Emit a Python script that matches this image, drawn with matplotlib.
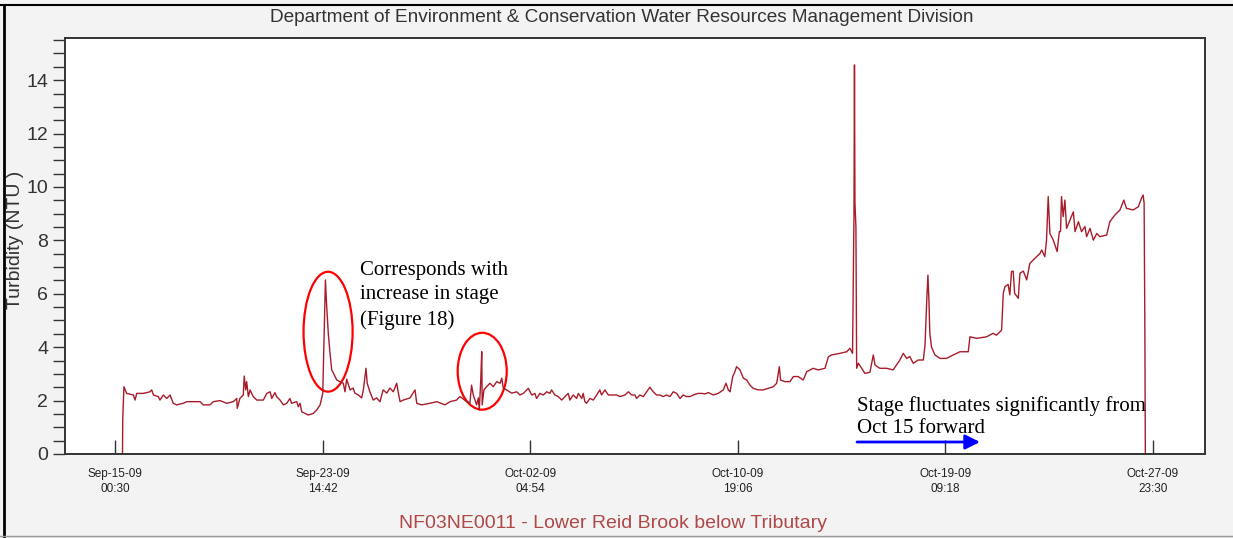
import matplotlib
matplotlib.use("Agg")
import matplotlib.pyplot as plt
import matplotlib.dates as mdates
from matplotlib.patches import Ellipse
from matplotlib.lines import Line2D
import pandas as pd

# ---------------- data ----------------
start_time = "2009-09-15 00:30"
# days elapsed since start_time in three stretches
days_a = [0.31, 0.32, 0.37, 0.48, 0.76, 0.83, 0.90, 1.17, 1.45, 1.52, 1.59, 1.79, 1.86, 2.00,
          2.14, 2.28, 2.41, 2.55, 2.69, 2.83, 2.97, 3.24, 3.52, 3.65, 3.93, 4.07, 4.35, 4.62,
          4.90, 5.04, 5.06, 5.17, 5.31, 5.35, 5.41, 5.45, 5.52, 5.59, 5.72, 5.87, 6.00, 6.14,
          6.28, 6.42, 6.49, 6.62, 6.69, 6.83, 6.97, 7.11, 7.24, 7.31, 7.52, 7.59, 7.66, 7.73,
          7.86, 8.00, 8.21, 8.35, 8.49, 8.60, 8.63, 8.71, 8.76, 8.83, 8.90, 8.97, 9.04, 9.18,
          9.31, 9.45, 9.52, 9.59, 9.73, 9.86, 9.93, 10.07, 10.21, 10.28, 10.39, 10.44, 10.55,
          10.69, 10.83, 10.97, 11.10, 11.25, 11.38, 11.52, 11.66, 11.73, 11.80, 11.93, 12.21,
          12.42, 12.49, 12.69, 13.04, 13.32, 13.66, 13.87, 14.14, 14.28, 14.56, 14.69, 14.76,
          14.83, 14.97, 15.04, 15.08, 15.14, 15.18, 15.20, 15.27, 15.38, 15.52, 15.66, 15.80,
          15.94, 16.01, 16.07, 16.21, 16.42, 16.63]
turb_a = [0.0, 1.30, 2.52, 2.27, 2.21, 2.02, 2.27, 2.27, 2.33, 2.40, 2.21, 2.15, 2.02, 2.21,
          2.08, 2.21, 1.90, 1.84, 1.87, 1.90, 1.96, 1.96, 1.96, 1.84, 1.84, 1.96, 2.00, 1.90,
          1.96, 2.08, 1.71, 2.08, 2.21, 2.92, 2.40, 2.71, 2.15, 2.40, 2.15, 2.02, 2.02, 2.02,
          2.27, 2.33, 2.08, 2.30, 2.15, 2.02, 1.84, 1.90, 2.08, 1.90, 1.96, 1.77, 1.90, 1.58,
          1.52, 1.46, 1.52, 1.65, 1.84, 2.27, 3.40, 6.52, 5.58, 4.50, 3.78, 3.15, 3.03, 2.77,
          2.71, 2.65, 2.33, 2.80, 2.40, 2.47, 2.28, 2.21, 2.10, 2.40, 3.21, 2.65, 2.33,
          2.02, 2.10, 1.96, 2.40, 2.28, 2.47, 2.33, 2.65, 2.28, 1.96, 2.02, 2.10,
          2.40, 1.90, 1.84, 1.90, 1.96, 1.84, 1.96, 2.02, 2.15, 1.96, 1.90, 2.58,
          2.21, 1.84, 2.10, 1.65, 2.77, 3.83, 1.84, 2.40, 2.52, 2.65, 2.52, 2.71,
          2.65, 2.84, 2.47, 2.40, 2.28, 2.33]

days_b = [16.76, 16.90, 17.11, 17.25, 17.38, 17.45, 17.59, 17.73, 17.87, 18.00,
          18.07, 18.21, 18.35, 18.49, 18.63, 18.76, 18.83, 18.97, 19.11, 19.18,
          19.32, 19.38, 19.45, 19.52, 19.66, 19.80, 19.94, 20.07, 20.14, 20.28,
          20.42, 20.56, 20.77, 20.90, 21.11, 21.25, 21.39, 21.52, 21.59, 21.73,
          21.87, 22.01, 22.14, 22.28, 22.42, 22.56, 22.69, 22.83, 22.97, 23.11,
          23.25, 23.39, 23.52, 23.66, 23.80, 23.94, 24.14, 24.28, 24.42, 24.56,
          24.77, 24.97, 25.18, 25.29, 25.39, 25.46, 25.57, 25.66]
turb_b = [2.21, 2.27, 2.46, 2.21, 2.27, 2.08, 2.27, 2.21, 2.33, 2.27,
          2.40, 2.21, 2.15, 2.02, 2.15, 2.27, 2.02, 2.21, 2.08, 2.27,
          2.08, 2.27, 1.96, 1.90, 2.08, 2.02, 2.21, 2.40, 2.21, 2.40,
          2.21, 2.21, 2.21, 2.15, 2.21, 2.33, 2.21, 2.21, 2.08, 2.21,
          2.15, 2.33, 2.50, 2.33, 2.21, 2.21, 2.15, 2.21, 2.15, 2.33,
          2.27, 2.08, 2.21, 2.15, 2.15, 2.21, 2.27, 2.27, 2.25, 2.30,
          2.21, 2.27, 2.40, 2.65, 2.40, 2.33, 2.90, 3.08]

days_c = [25.73, 25.87,
          26.01, 26.15, 26.28, 26.42, 26.63, 26.83, 27.04, 27.25, 27.39, 27.50, 27.55, 27.73,
          27.94, 28.08, 28.28, 28.49, 28.63, 28.90, 29.11, 29.39, 29.53, 29.66, 30.01, 30.29,
          30.42, 30.53, 30.59, 30.61, 30.63, 30.67, 30.70, 30.77, 30.91, 31.04, 31.25, 31.39,
          31.46, 31.66, 31.94, 32.21, 32.49, 32.63, 32.77, 32.90, 33.04, 33.25, 33.46, 33.53,
          33.60, 33.65, 33.69, 33.73, 33.80, 33.94, 34.15, 34.42, 34.70, 34.98, 35.32, 35.39,
          35.67, 36.08, 36.35, 36.49, 36.70, 36.77, 36.84, 36.97, 37.04, 37.11, 37.18, 37.24,
          37.39, 37.46, 37.60, 37.74, 37.87, 38.08, 38.29, 38.36, 38.49, 38.56, 38.63, 38.70,
          38.84, 39.00, 39.09, 39.14, 39.18, 39.25, 39.32, 39.39, 39.53, 39.67, 39.74, 39.88,
          40.01, 40.15, 40.22, 40.36, 40.50, 40.64, 40.77, 41.05, 41.18, 41.39, 41.60, 41.76,
          41.87, 42.15, 42.36, 42.49, 42.56, 42.60, 42.63, 42.65]
turb_c = [3.27, 3.15,
          2.84, 2.77, 2.58, 2.46, 2.40, 2.40, 2.46, 2.52, 2.65, 3.27, 2.77, 2.71,
          2.71, 2.90, 2.90, 2.77, 3.08, 3.21, 3.15, 3.21, 3.64, 3.71, 3.77, 3.83,
          3.96, 3.77, 9.00, 14.57, 9.39, 8.51, 3.21, 3.40, 3.21, 3.02, 3.06, 3.71,
          3.33, 3.21, 3.21, 3.15, 3.52, 3.77, 3.58, 3.65, 3.40, 3.52, 3.52, 4.08,
          5.70, 6.70, 5.80, 4.52, 4.00, 3.71, 3.58, 3.58, 3.71, 3.83, 3.83, 4.39,
          4.33, 4.39, 4.52, 4.45, 4.64, 6.02, 6.27, 6.35, 5.96, 6.83, 6.85, 6.02,
          5.83, 6.77, 6.85, 6.52, 7.14, 7.33, 7.51, 7.64, 7.39, 8.01, 9.64, 8.26,
          8.01, 7.58, 8.33, 8.33, 9.64, 8.89, 9.51, 8.45, 8.76, 9.07, 8.33, 8.70,
          8.33, 8.52, 8.14, 8.45, 8.01, 8.26, 8.14, 8.20, 8.70, 8.95, 9.14, 9.51,
          9.20, 9.14, 9.26, 9.58, 9.70, 9.39, 4.77, 0.0]

tick_times = ["2009-09-15 00:30", "2009-09-23 14:42", "2009-10-02 04:54",
              "2009-10-10 19:06", "2009-10-19 09:18", "2009-10-27 23:30"]
y_major = [0, 2, 4, 6, 8, 10, 12, 14]

title_text = "Department of Environment & Conservation Water Resources Management Division"
station_text = "NF03NE0011 - Lower Reid Brook below Tributary"
ylabel_text = "Turbidity (NTU )"
note1 = "Corresponds with\nincrease in stage\n(Figure 18)"
note2 = "Stage fluctuates significantly from\nOct 15 forward"

days = days_a + days_b + days_c
turbidity = turb_a + turb_b + turb_c
assert len(days) == len(turbidity)

# ---------------- figure ----------------
W, H = 1233, 538
sans = ["Liberation Sans", "DejaVu Sans"]
serif = ["Liberation Serif", "DejaVu Serif"]
plt.rcParams["font.family"] = sans

fig = plt.figure(figsize=(W / 100, H / 100), dpi=100, facecolor="#f3f3f3")
ax = fig.add_axes([65 / W, 1 - 454 / H, (1205 - 65) / W, (454 - 38) / H])
ax.set_facecolor("white")

t0 = pd.Timestamp(start_time)
times = t0 + pd.to_timedelta(days, unit="D")
ax.plot(times, turbidity, color="#a81c2a", lw=1.0)

ax.set_xlim(t0 - pd.Timedelta(days=2.07), t0 + pd.Timedelta(days=45.12))
ax.set_ylim(0, 15.58)

ticks = pd.to_datetime(tick_times)
ax.set_xticks(ticks)
ax.set_xticklabels([t.strftime("%b-%d-%y\n%H:%M") for t in ticks],
                   fontsize=8.5, color="#222222", linespacing=1.3)
ax.tick_params(axis="x", direction="in", length=10, width=1, color="#333333", pad=10,
               top=False)
ax.set_yticks(y_major)
ax.set_yticks([v / 2 for v in range(0, 32)], minor=True)
ax.tick_params(axis="y", which="both", direction="out", length=9, width=1,
               color="#333333", pad=3, labelsize=14, labelcolor="#333333", right=False)
for s in ax.spines.values():
    s.set_color("#333333")
    s.set_linewidth(1.4)

# ellipses marking the two stage-related events
ax.add_patch(Ellipse((mdates.date2num(t0 + pd.Timedelta(days=8.82)), 4.58), 2.03, 4.49,
                     fill=False, ec="red", lw=1.6))
ax.add_patch(Ellipse((mdates.date2num(t0 + pd.Timedelta(days=15.20)), 3.10), 2.03, 2.88,
                     fill=False, ec="red", lw=1.6))

fig.text(360 / W, 1 - 261 / H, note1, family=serif, fontsize=15, va="top", ha="left",
         linespacing=1.38, color="black")
fig.text(857 / W, 1 - 396 / H, note2, family=serif, fontsize=15, va="top", ha="left",
         linespacing=1.22, color="black")
ax.annotate("", xy=(980, H - 442), xytext=(857, H - 442),
            xycoords="figure pixels", textcoords="figure pixels",
            arrowprops=dict(arrowstyle="-|>", color="blue", lw=2, mutation_scale=22,
                            shrinkA=0, shrinkB=0))

fig.text(622 / W, 1 - 18 / H, title_text, family=sans, fontsize=13.7, ha="center",
         va="center", color="#333333")
fig.text(613 / W, 1 - 524 / H, station_text, family=sans, fontsize=14, ha="center",
         va="center", color="#b04848")
fig.text(15 / W, 1 - 240 / H, ylabel_text, family=sans, fontsize=14, ha="center",
         va="center", rotation=90, color="#333333")

# outer frame lines
fig.add_artist(Line2D([0, 1], [1 - 5 / H, 1 - 5 / H], color="black", lw=1.5,
                      transform=fig.transFigure))
fig.add_artist(Line2D([4 / W, 4 / W], [0, 1 - 5 / H], color="black", lw=2,
                      transform=fig.transFigure))
fig.add_artist(Line2D([0, 1], [1 - 536 / H, 1 - 536 / H], color="#999999", lw=1,
                      transform=fig.transFigure))

for lab in ax.get_xticklabels() + ax.get_yticklabels():
    lab.set_family(sans)

fig.savefig("out.png", dpi=100, facecolor=fig.get_facecolor())
